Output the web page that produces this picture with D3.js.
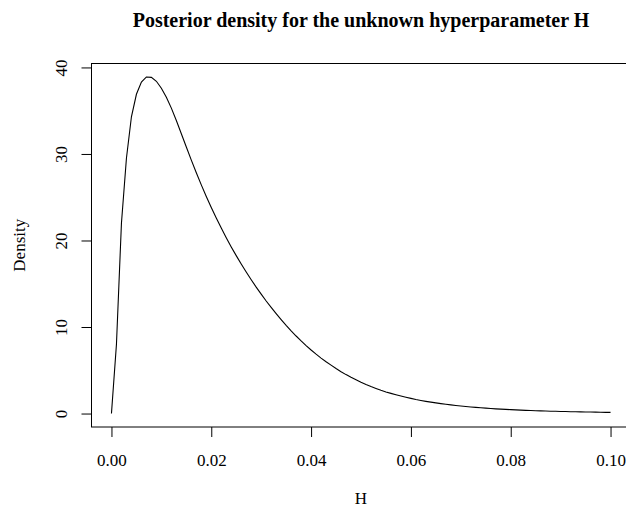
<!DOCTYPE html>
<html>
<head>
<meta charset="utf-8">
<script src="https://cdn.jsdelivr.net/npm/d3@7"></script>
<style>
  html, body { margin: 0; padding: 0; background: #fff; }
  svg { display: block; }
  text { font-family: "Liberation Serif", "DejaVu Serif", serif; fill: #000; }
</style>
</head>
<body>
<script>
// ---- data ----
const hValues = [
  0.000, 0.001, 0.002, 0.003, 0.004, 0.005, 0.006, 0.007, 0.008, 0.009,
  0.010, 0.011, 0.012, 0.013, 0.014, 0.015, 0.016, 0.017, 0.018, 0.019,
  0.020, 0.021, 0.022, 0.023, 0.024, 0.025, 0.026, 0.027, 0.028, 0.029,
  0.030, 0.031, 0.032, 0.033, 0.034, 0.035, 0.036, 0.037, 0.038, 0.039,
  0.040, 0.041, 0.042, 0.043, 0.044, 0.045, 0.046, 0.047, 0.048, 0.049,
  0.050, 0.051, 0.052, 0.053, 0.054, 0.055, 0.056, 0.057, 0.058, 0.059,
  0.060, 0.061, 0.062, 0.063, 0.064, 0.065, 0.066, 0.067, 0.068, 0.069,
  0.070, 0.071, 0.072, 0.073, 0.074, 0.075, 0.076, 0.077, 0.078, 0.079,
  0.080, 0.081, 0.082, 0.083, 0.084, 0.085, 0.086, 0.087, 0.088, 0.089,
  0.090, 0.091, 0.092, 0.093, 0.094, 0.095, 0.096, 0.097, 0.098, 0.099,
  0.100
];
const densityValues = [
  0.0, 8.0, 22.0, 29.5, 34.3, 36.9, 38.3, 38.9, 38.85, 38.4,
  37.6, 36.55, 35.3, 33.86, 32.34, 30.8, 29.29, 27.83, 26.43, 25.09,
  23.81, 22.59, 21.43, 20.32, 19.26, 18.25, 17.28, 16.35, 15.46, 14.61,
  13.8, 13.01, 12.26, 11.54, 10.85, 10.19, 9.56, 8.96, 8.39, 7.85,
  7.34, 6.86, 6.41, 5.99, 5.59, 5.2, 4.84, 4.5, 4.19, 3.9,
  3.62, 3.36, 3.12, 2.9, 2.69, 2.5, 2.33, 2.17, 2.02, 1.88,
  1.75, 1.62, 1.51, 1.41, 1.32, 1.23, 1.15, 1.07, 1.0, 0.93,
  0.87, 0.81, 0.76, 0.71, 0.66, 0.62, 0.58, 0.54, 0.51, 0.48,
  0.45, 0.42, 0.39, 0.37, 0.35, 0.33, 0.31, 0.29, 0.27, 0.26,
  0.24, 0.23, 0.21, 0.20, 0.19, 0.18, 0.17, 0.16, 0.15, 0.14,
  0.13
];
const xTicks = [0, 0.02, 0.04, 0.06, 0.08, 0.10];
const xTickLabels = ["0.00", "0.02", "0.04", "0.06", "0.08", "0.10"];
const yTicks = [0, 10, 20, 30, 40];
const yTickLabels = ["0", "10", "20", "30", "40"];
const titleText = "Posterior density for the unknown hyperparameter H";
const xLabel = "H";
const yLabel = "Density";

// ---- layout ----
const W = 626, H = 508;
const box = { left: 91.5, right: 630.5, top: 63.5, bottom: 427 };

const svg = d3.select("body").append("svg")
  .attr("width", W).attr("height", H);

// R-style 4% axis extension
function rRange(lo, hi) { const r = hi - lo; return [lo - 0.04 * r, hi + 0.04 * r]; }
const xExt = d3.extent(hValues), yExt = d3.extent(densityValues);
const x = d3.scaleLinear().domain(rRange(xExt[0], xExt[1])).range([box.left, box.right]);
const y = d3.scaleLinear().domain(rRange(yExt[0], yExt[1])).range([box.bottom, box.top]);

// curve
const pts = hValues.map((h, i) => [h, densityValues[i]]);
svg.append("path")
  .datum(pts)
  .attr("fill", "none")
  .attr("stroke", "#000")
  .attr("stroke-width", 1.1)
  .attr("d", d3.line().x(d => x(d[0])).y(d => y(d[1])));

// box
svg.append("rect")
  .attr("x", box.left).attr("y", box.top)
  .attr("width", box.right - box.left).attr("height", box.bottom - box.top)
  .attr("fill", "none").attr("stroke", "#000").attr("stroke-width", 1);

// x axis
const xAxis = d3.axisBottom(x).tickValues(xTicks)
  .tickFormat((d, i) => xTickLabels[i]).tickSize(10).tickPadding(0);
const gx = svg.append("g").attr("transform", `translate(0,${box.bottom})`).call(xAxis);
gx.select(".domain").remove();
gx.selectAll(".tick line").attr("stroke", "#000");
gx.selectAll(".tick text")
  .attr("y", 38.5).attr("dy", null)
  .style("font-family", '"Liberation Serif", serif')
  .style("font-size", "17px").attr("fill", "#000");

// y axis
const yAxis = d3.axisLeft(y).tickValues(yTicks)
  .tickFormat((d, i) => yTickLabels[i]).tickSize(10).tickPadding(0);
const gy = svg.append("g").attr("transform", `translate(${box.left},0)`).call(yAxis);
gy.select(".domain").remove();
gy.selectAll(".tick line").attr("stroke", "#000");
gy.selectAll(".tick text")
  .attr("x", null).attr("dy", null)
  .attr("text-anchor", "middle")
  .attr("transform", "translate(-24.5,0) rotate(-90)")
  .style("font-family", '"Liberation Serif", serif')
  .style("font-size", "17px").attr("fill", "#000");

// title
const cx = (box.left + box.right) / 2;
svg.append("text")
  .attr("x", cx).attr("y", 26.5)
  .attr("text-anchor", "middle")
  .style("font-size", "20px").style("font-weight", "bold")
  .text(titleText);

// axis titles
svg.append("text")
  .attr("x", cx).attr("y", 504)
  .attr("text-anchor", "middle")
  .style("font-size", "17px")
  .text(xLabel);

const cy = (box.top + box.bottom) / 2;
svg.append("text")
  .attr("transform", `translate(25,${cy}) rotate(-90)`)
  .attr("text-anchor", "middle")
  .style("font-size", "17px")
  .text(yLabel);
</script>
</body>
</html>
